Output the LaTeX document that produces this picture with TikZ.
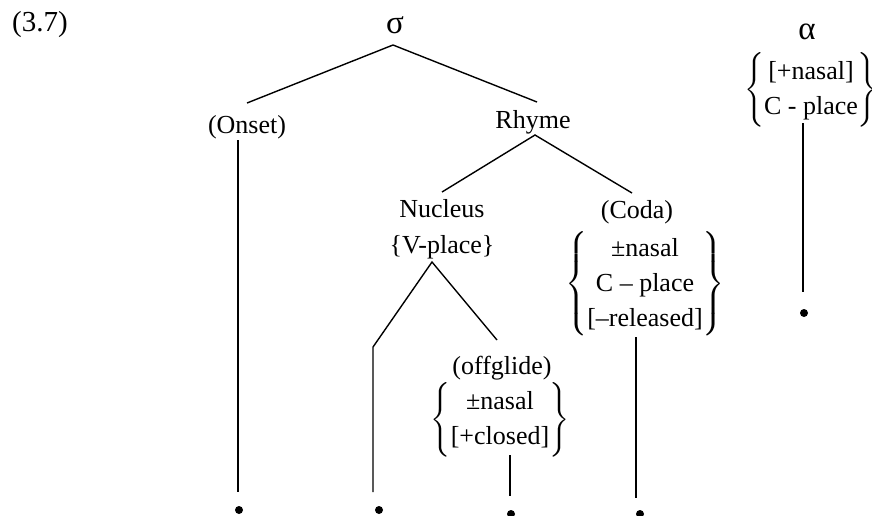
\documentclass[tikz,border=0pt]{standalone}
\usepackage{amsmath}
\usepackage{fontspec}
\setmainfont{Liberation Serif}
\usetikzlibrary{calc}
\newcommand{\bracegroup}[1]{$\left\{\begin{tabular}{@{}c@{}}#1\end{tabular}\right\}$}
\begin{document}
\begin{tikzpicture}[x=1pt,y=-1pt,
  every node/.style={font=\fontsize{26}{35}\selectfont, inner sep=0pt},
  greek/.style={font=\fontsize{33}{35}\selectfont},
  edge/.style={line width=1.4pt},
  dotnode/.style={circle, fill=black, inner sep=0pt, minimum size=8pt}]
\useasboundingbox (0,0) rectangle (872,515);
% labels
\node[font=\fontsize{29}{34}\selectfont] (num) at (40,25) {(3.7)};
\node[greek] (sigma) at (395,25) {σ};
\node[greek] (alpha) at (807,32) {α};
\node (onset) at (247,127) {(Onset)};
\node (rhyme) at (533,122) {Rhyme};
\node (nucleus) at (442,209) {Nucleus};
\node (vplace) at (442,247) {\{V-place\}};
\node (coda) at (637,212) {(Coda)};
\node (codaf) at (645,284) {\bracegroup{±nasal\\ C – place\\ {[}–released{]}}};
\node (offglide) at (502,368) {(offglide)};
\node (offf) at (500,420) {\bracegroup{±nasal\\ {[}+closed{]}}};
\node (alphaf) at (811,90) {\bracegroup{{[}+nasal{]}\\ C - place}};
% dots
\node[dotnode] (d1) at (239,510) {};
\node[dotnode] (d2) at (379,510) {};
\node[dotnode] (d3) at (511,514) {};
\node[dotnode] (d4) at (640,514) {};
\node[dotnode] (d5) at (804,313) {};
% free ends above the dots
\coordinate (e1) at (238,492);
\coordinate (e2) at (373,492);
\coordinate (e3) at (510,496);
\coordinate (e4) at (636,498);
\coordinate (e5) at (803,292);
% connectors
\draw[edge] ($(onset)+(0,-24)$) -- ($(sigma)+(-2,20)$) -- ($(rhyme)+(4,-20)$);
\draw[edge] ($(nucleus)+(0,-17)$) -- ($(rhyme)+(2,13)$) -- ($(coda)+(-5,-19)$);
\draw[edge] (e2) -- ($(e2)+(0,-145)$) -- ($(vplace)+(-10,15)$) -- ($(offglide)+(-5,-28)$);
\draw[edge] ($(onset)+(-9,13)$) -- (e1);
\draw[edge] ($(offf)+(10,35)$) -- (e3);
\draw[edge] ($(codaf)+(-9,53)$) -- (e4);
\draw[edge] ($(alphaf)+(-8,33)$) -- (e5);
\end{tikzpicture}
\end{document}
